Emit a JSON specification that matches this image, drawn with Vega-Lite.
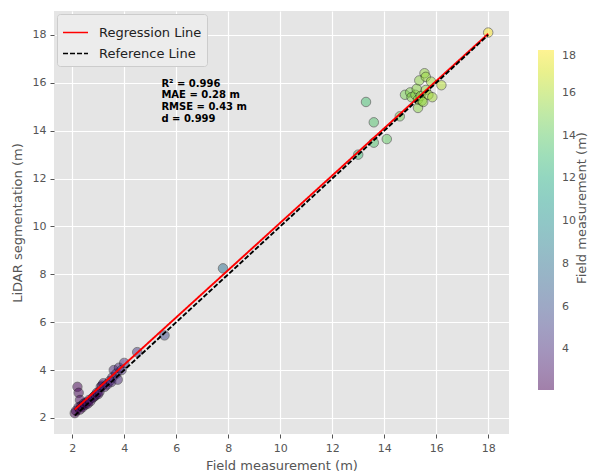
{
  "$schema": "https://vega.github.io/schema/vega-lite/v6.json",
  "width": 455,
  "height": 423,
  "autosize": {"type": "none"},
  "padding": {"left": 54, "top": 11, "right": 80, "bottom": 40},
  "background": "white",
  "config": {
    "font": "DejaVu Sans",
    "view": {"fill": "#e5e5e5", "stroke": null},
    "axis": {
      "domain": false,
      "grid": true,
      "gridColor": "white",
      "gridWidth": 1.2,
      "tickColor": "#555555",
      "tickSize": 4,
      "labelColor": "#555555",
      "labelFontSize": 11,
      "labelPadding": 4,
      "titleColor": "#555555",
      "titleFontSize": 13,
      "titleFontWeight": "normal"
    }
  },
  "datasets": {
    "trees": [
      {"field": 2.1, "lidar": 2.2},
      {"field": 2.15, "lidar": 2.3},
      {"field": 2.2, "lidar": 3.3},
      {"field": 2.25, "lidar": 3.05},
      {"field": 2.3, "lidar": 2.75},
      {"field": 2.25, "lidar": 2.45},
      {"field": 2.3, "lidar": 2.35},
      {"field": 2.35, "lidar": 2.5},
      {"field": 2.4, "lidar": 2.45},
      {"field": 2.45, "lidar": 2.6},
      {"field": 2.5, "lidar": 2.55},
      {"field": 2.55, "lidar": 2.65},
      {"field": 2.6, "lidar": 2.6},
      {"field": 2.65, "lidar": 2.75},
      {"field": 2.7, "lidar": 2.7},
      {"field": 2.8, "lidar": 2.85},
      {"field": 2.85, "lidar": 2.9},
      {"field": 2.9, "lidar": 2.95},
      {"field": 2.95, "lidar": 3.05},
      {"field": 3.0, "lidar": 3.0},
      {"field": 3.05, "lidar": 3.1},
      {"field": 3.1, "lidar": 3.3},
      {"field": 3.15, "lidar": 3.35},
      {"field": 3.2, "lidar": 3.45},
      {"field": 3.25, "lidar": 3.3},
      {"field": 3.35, "lidar": 3.4},
      {"field": 3.45, "lidar": 3.55},
      {"field": 3.5, "lidar": 3.5},
      {"field": 3.55, "lidar": 3.7},
      {"field": 3.6, "lidar": 4.0},
      {"field": 3.7, "lidar": 3.85},
      {"field": 3.75, "lidar": 3.6},
      {"field": 3.8, "lidar": 4.1},
      {"field": 3.9, "lidar": 4.0},
      {"field": 4.0, "lidar": 4.3},
      {"field": 4.5, "lidar": 4.75},
      {"field": 5.55, "lidar": 5.45},
      {"field": 7.8, "lidar": 8.25},
      {"field": 13.0, "lidar": 13.0},
      {"field": 13.3, "lidar": 15.2},
      {"field": 13.6, "lidar": 14.35},
      {"field": 13.6, "lidar": 13.5},
      {"field": 14.1, "lidar": 13.65},
      {"field": 14.6, "lidar": 14.6},
      {"field": 14.8, "lidar": 15.5},
      {"field": 15.0, "lidar": 15.6},
      {"field": 15.05, "lidar": 15.4},
      {"field": 15.2, "lidar": 15.5},
      {"field": 15.25, "lidar": 15.75},
      {"field": 15.3, "lidar": 14.95},
      {"field": 15.3, "lidar": 15.3},
      {"field": 15.35, "lidar": 16.1},
      {"field": 15.4, "lidar": 15.45},
      {"field": 15.45, "lidar": 15.25},
      {"field": 15.5, "lidar": 15.2},
      {"field": 15.55, "lidar": 16.4},
      {"field": 15.6, "lidar": 16.25},
      {"field": 15.6, "lidar": 15.7},
      {"field": 15.7, "lidar": 15.5},
      {"field": 15.8, "lidar": 16.05},
      {"field": 15.85, "lidar": 15.4},
      {"field": 16.2, "lidar": 15.9},
      {"field": 18.0, "lidar": 18.1}
    ],
    "fitLines": [
      {"series": "Regression Line", "field": 2.1, "lidar": 2.35},
      {"series": "Regression Line", "field": 18.0, "lidar": 18.05},
      {"series": "Reference Line", "field": 2.1, "lidar": 2.1},
      {"series": "Reference Line", "field": 18.0, "lidar": 18.0}
    ],
    "stats": [
      {"field": 5.43, "lidar": 16.18, "text": "R² = 0.996\nMAE = 0.28 m\nRMSE = 0.43 m\nd = 0.999"}
    ]
  },
  "encoding": {
    "x": {
      "field": "field",
      "type": "quantitative",
      "title": "Field measurement (m)",
      "scale": {"domain": [1.3, 18.8], "nice": false, "zero": false},
      "axis": {"values": [2, 4, 6, 8, 10, 12, 14, 16, 18], "titlePadding": 6}
    },
    "y": {
      "field": "lidar",
      "type": "quantitative",
      "title": "LiDAR segmentation (m)",
      "scale": {"domain": [1.33, 19.0], "nice": false, "zero": false},
      "axis": {"values": [2, 4, 6, 8, 10, 12, 14, 16, 18], "titlePadding": 8}
    }
  },
  "layer": [
    {
      "data": {"name": "trees"},
      "mark": {"type": "circle", "size": 90, "opacity": 0.5, "stroke": "black", "strokeWidth": 0.8},
      "encoding": {
        "fill": {
          "field": "field",
          "type": "quantitative",
          "scale": {"scheme": "viridis", "domain": [2.1, 18]},
          "legend": {
            "orient": "none",
            "legendX": 484,
            "legendY": 39,
            "direction": "vertical",
            "gradientLength": 340,
            "gradientThickness": 16,
            "gradientOpacity": 0.5,
            "gradientStrokeWidth": 0,
            "values": [4, 6, 8, 10, 12, 14, 16, 18],
            "labelFontSize": 11,
            "labelColor": "#555555",
            "labelOffset": 8,
            "title": "Field measurement (m)",
            "titleOrient": "right",
            "titleFontSize": 13,
            "titleColor": "#555555",
            "titleFontWeight": "normal",
            "titlePadding": 6,
            "encode": {"title": {"update": {"angle": {"value": -90}, "dx": {"value": 12}, "dy": {"value": 7}}}}
          }
        }
      }
    },
    {
      "data": {"name": "fitLines"},
      "mark": {"type": "line", "strokeWidth": 1.9},
      "encoding": {
        "stroke": {
          "field": "series",
          "type": "nominal",
          "scale": {"domain": ["Regression Line", "Reference Line"], "range": ["#ff0000", "#000000"]},
          "legend": {
            "orient": "top-left",
            "offset": 3,
            "title": null,
            "padding": 5,
            "fillColor": "#ececec",
            "strokeColor": "#cccccc",
            "cornerRadius": 3,
            "labelFontSize": 13,
            "labelColor": "#222222",
            "labelOffset": 10,
            "symbolType": "stroke",
            "symbolSize": 625,
            "symbolStrokeWidth": 1.6,
            "rowPadding": 0
          }
        },
        "strokeDash": {
          "field": "series",
          "type": "nominal",
          "scale": {"domain": ["Regression Line", "Reference Line"], "range": [[1, 0], [5, 2]]},
          "legend": null
        }
      }
    },
    {
      "data": {"name": "stats"},
      "mark": {"type": "text", "align": "left", "baseline": "top", "fontWeight": "bold", "fontSize": 10, "lineHeight": 11.7, "lineBreak": "\n", "color": "black"},
      "encoding": {"text": {"field": "text"}}
    }
  ]
}
